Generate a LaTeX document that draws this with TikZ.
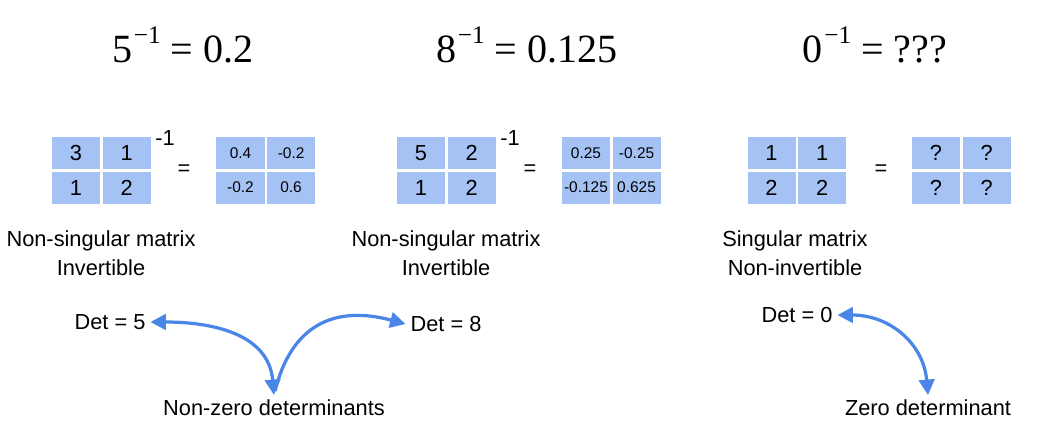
\documentclass[tikz,border=0pt]{standalone}
\usepackage{fontspec}
\setmainfont{Liberation Sans}
\newfontfamily\titlefont{Liberation Serif}
\usetikzlibrary{shapes,arrows.meta,positioning}
\definecolor{cellblue}{HTML}{A4C2F4}
\definecolor{arrowblue}{HTML}{4A86E8}
\newcommand{\supone}{\raisebox{0.45em}{\fontsize{18}{20}\selectfont \kern1pt−1}}

\begin{document}
\begin{tikzpicture}
				[
					x=0.025cm, y=0.025cm,
					cellnode/.style={rectangle, fill=cellblue, minimum width=12mm, minimum height=8mm, inner sep=0pt, font=\fontsize{15.5}{18}\selectfont},
					resultnode/.style={cellnode, font=\fontsize{11}{13}\selectfont},
					titlenode/.style={anchor=base, font=\titlefont\fontsize{28.5}{34}\selectfont},
					labelnode/.style={align=center, font=\fontsize{15.5}{21}\selectfont},
					curveline/.style={draw=arrowblue, line width=2.3pt},
					curvearrow/.style={curveline, {Triangle[length=11pt,width=11pt]}-{Triangle[length=11pt,width=11pt]}},
				]
				\useasboundingbox (0,0) rectangle (1058,-423);

				% titles
				\node [titlenode] (fivetitle) at (183,-62) {5\supone{} = 0.2};
				\node [titlenode] (eighttitle) at (527,-62) {8\supone{} = 0.125};
				\node [titlenode] (zerotitle) at (875,-62) {0\supone{} = ???};

				% first matrix
				\node [cellnode] (aa) at (76,-153) {3};
				\node [cellnode] (ab) [right=0.05cm of aa] {1};
				\node [cellnode] (ac) [below=0.05cm of aa] {1};
				\node [cellnode] (ad) [right=0.05cm of ac] {2};
				\node [font=\fontsize{15.5}{18}\selectfont] (ainv) at (165,-138) {-1};
				\node [font=\fontsize{15.5}{18}\selectfont] (aeq) at (184,-170) {=};
				\node [resultnode] (ra) at (240.5,-153) {0.4};
				\node [resultnode] (rb) [right=0.05cm of ra] {-0.2};
				\node [resultnode] (rc) [below=0.05cm of ra] {-0.2};
				\node [resultnode] (rd) [right=0.05cm of rc] {0.6};

				% second matrix
				\node [cellnode] (ba) at (421,-153) {5};
				\node [cellnode] (bb) [right=0.05cm of ba] {2};
				\node [cellnode] (bc) [below=0.05cm of ba] {1};
				\node [cellnode] (bd) [right=0.05cm of bc] {2};
				\node [font=\fontsize{15.5}{18}\selectfont] (binv) at (510,-138) {-1};
				\node [font=\fontsize{15.5}{18}\selectfont] (beq) at (530,-170) {=};
				\node [resultnode] (sa) at (586,-153) {0.25};
				\node [resultnode] (sb) [right=0.05cm of sa] {-0.25};
				\node [resultnode] (sc) [below=0.05cm of sa] {-0.125};
				\node [resultnode] (sd) [right=0.05cm of sc] {0.625};

				% third matrix
				\node [cellnode] (ca) at (771.5,-153) {1};
				\node [cellnode] (cb) [right=0.05cm of ca] {1};
				\node [cellnode] (cc) [below=0.05cm of ca] {2};
				\node [cellnode] (cd) [right=0.05cm of cc] {2};
				\node [font=\fontsize{15.5}{18}\selectfont] (ceq) at (881,-170) {=};
				\node [cellnode] (ta) at (936,-153) {?};
				\node [cellnode] (tb) [right=0.05cm of ta] {?};
				\node [cellnode] (tc) [below=0.05cm of ta] {?};
				\node [cellnode] (td) [right=0.05cm of tc] {?};

				% labels
				\node [labelnode] (nonsinga) at (101,-253) {Non-singular matrix\\Invertible};
				\node [labelnode] (nonsingb) at (446,-253) {Non-singular matrix\\Invertible};
				\node [labelnode] (sing) at (795,-253) {Singular matrix\\Non-invertible};

				\node [labelnode] (detfive) at (110,-322) {Det = 5};
				\node [labelnode] (deteight) at (446,-324) {Det = 8};
				\node [labelnode] (detzero) at (797,-315) {Det = 0};
				\node [labelnode] (nonzero) at (274,-408) {Non-zero determinants};
				\node [labelnode] (zero) at (928,-408) {Zero determinant};

				\draw [curvearrow] (detfive.east) to[out=0, in=95, looseness=1.1] (nonzero.north);
				\draw [curveline, -{Triangle[length=11pt,width=11pt]}, shorten <=3pt] (nonzero.north) to[out=76, in=165, looseness=1.25] (deteight.west);
				\draw [curvearrow] (detzero.east) to[out=0, in=95, looseness=1.1] (zero.north);

			\end{tikzpicture}
\end{document}
